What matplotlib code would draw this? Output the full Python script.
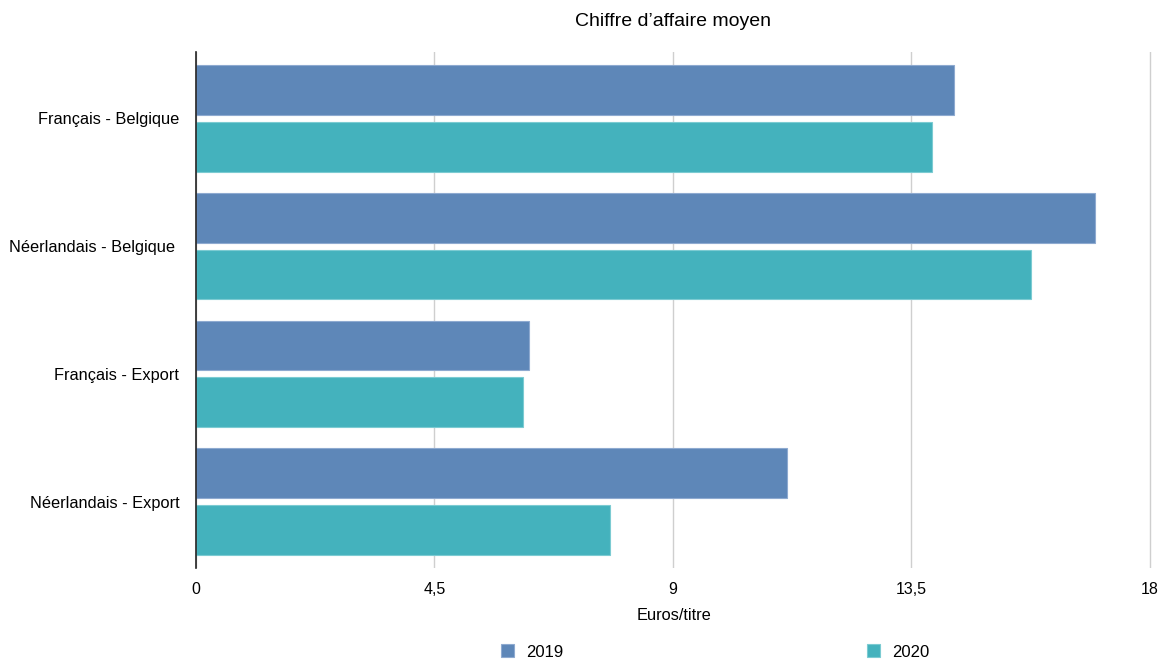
import matplotlib
matplotlib.use("Agg")
import matplotlib.pyplot as plt
import numpy as np

plt.rcParams['font.family'] = ['Liberation Sans', 'DejaVu Sans']

categories = ["Français - Belgique", "Néerlandais - Belgique ", "Français - Export", "Néerlandais - Export"]
values_2019 = [14.3, 16.97, 6.29, 11.16]
values_2020 = [13.88, 15.75, 6.18, 7.81]
series_labels = ["2019", "2020"]
x_ticks = [0, 4.5, 9, 13.5, 18]
x_tick_labels = ["0", "4,5", "9", "13,5", "18"]

color_2019 = "#5e87b8"
color_2020 = "#44b2bd"

fig = plt.figure(figsize=(11.62, 6.61), dpi=100)
ax = fig.add_axes([196/1162, 1-568/661, (1152-196)/1162, (568-52)/661])

y = np.arange(len(categories))
h = 0.39
off = 0.222
ax.barh(y - off, values_2019, height=h, color=color_2019, edgecolor="#8eaad0",
        linewidth=0.8, label=series_labels[0], zorder=3)
ax.barh(y + off, values_2020, height=h, color=color_2020, edgecolor="#7ccbd2",
        linewidth=0.8, label=series_labels[1], zorder=3)

ax.set_ylim(3.52, -0.52)
ax.set_xlim(0, 18.04)
ax.set_yticks(y)
ax.set_yticklabels(categories, fontsize=11.8)
ax.set_xticks(x_ticks)
ax.set_xticklabels(x_tick_labels, fontsize=11.5)
ax.tick_params(axis='both', length=0)
ax.tick_params(axis='y', pad=12)
ax.tick_params(axis='x', pad=10)

ax.grid(axis='x', color="#cfcfcf", linewidth=1, zorder=0)
for s in ['top', 'right', 'bottom']:
    ax.spines[s].set_visible(False)
ax.spines['left'].set_color("#222222")
ax.spines['left'].set_linewidth(1.2)
ax.spines['left'].set_zorder(4)

ax.set_xlabel("Euros/titre", fontsize=11.8, labelpad=8)
fig.text(673/1162, 1-22/661, "Chiffre d\u2019affaire moyen", fontsize=14,
         ha='center', va='center')

fig.legend(loc='center', bbox_to_anchor=(715/1162, 1-652/661), ncol=2,
           frameon=False, fontsize=12, handlelength=0.8, handleheight=0.8,
           handletextpad=0.7, columnspacing=18.2)

fig.savefig("out.png", dpi=100)
